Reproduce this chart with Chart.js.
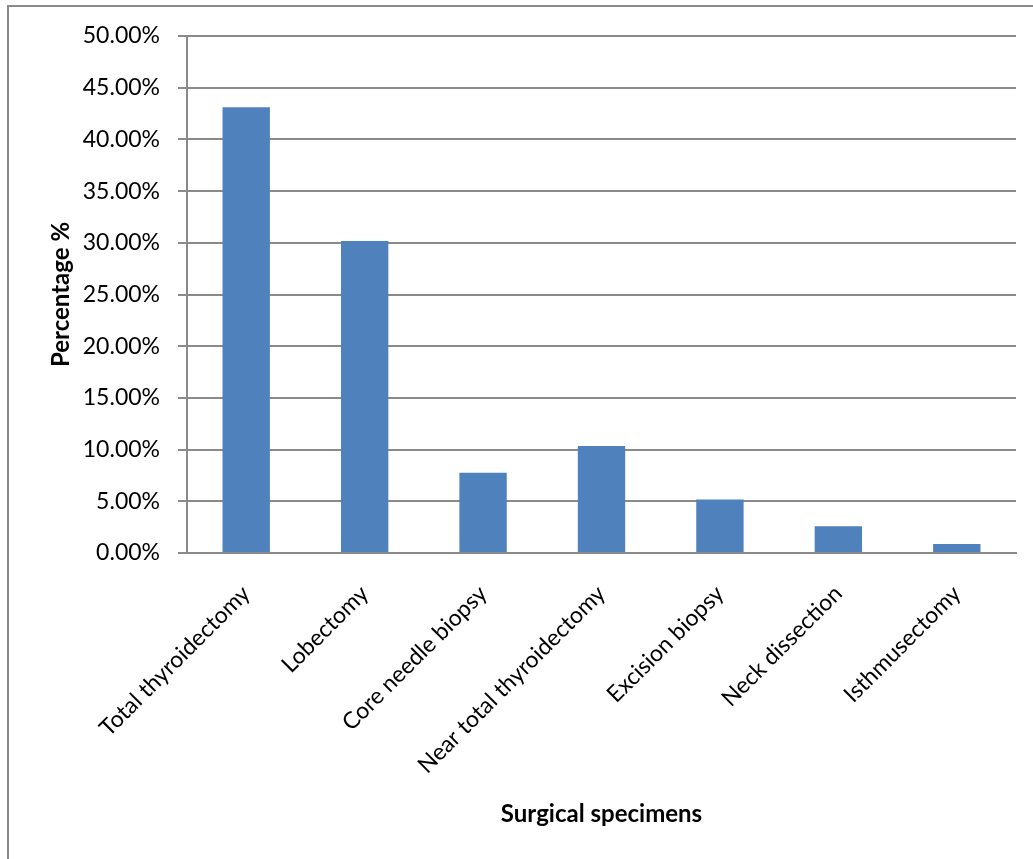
<!DOCTYPE html>
<html>
<head>
<meta charset="utf-8">
<script src="https://cdn.jsdelivr.net/npm/chart.js@4"></script>
<style>
  body { margin: 0; background: #fff; }
  canvas { display: block; }
</style>
</head>
<body>
<canvas id="specimens" width="1033" height="859"></canvas>
<script>
const categories = ['Total thyroidectomy', 'Lobectomy', 'Core needle biopsy', 'Near total thyroidectomy',
    'Excision biopsy', 'Neck dissection', 'Isthmusectomy'];
const percentages = [43.10, 30.17, 7.76, 10.34, 5.17, 2.59, 0.86];
const yTicks = [0, 5, 10, 15, 20, 25, 30, 35, 40, 45, 50];

const gridColor = '#8a8a8a';

// outer frame of the chart box (left and top edges only show)
const frame = {
    id: 'frame',
    beforeDraw(chart) {
        const c = chart.ctx;
        c.save();
        c.strokeStyle = '#8a8a8a';
        c.lineWidth = 2;
        c.beginPath();
        c.moveTo(8, chart.height);
        c.lineTo(8, 6);
        c.lineTo(chart.width, 6);
        c.stroke();
        c.restore();
    }
};

const ctx = document.getElementById('specimens');

const chart = new Chart(ctx, {
    type: 'bar',
    data: {
        labels: categories,
        datasets: [{
            label: 'Percentage',
            data: percentages,
            backgroundColor: '#4f81bd',
            barPercentage: 0.8,
            categoryPercentage: 0.5
        }]
    },
    options: {
        responsive: false,
        animation: false,
        layout: { padding: { left: 0, top: 36, right: 17, bottom: 0 } },
        plugins: {
            legend: { display: false },
            tooltip: { enabled: false }
        },
        scales: {
            x: {
                grid: { display: false, drawTicks: false },
                border: { display: true, color: gridColor, width: 2 },
                ticks: {
                    color: '#000',
                    font: { family: 'Lato', size: 23 },
                    minRotation: 45,
                    maxRotation: 45,
                    padding: 27
                },
                title: {
                    display: true,
                    text: 'Surgical specimens',
                    color: '#000',
                    font: { family: 'Lato', size: 24, weight: 'bold' },
                    padding: { top: 0, bottom: 30 }
                },
                afterFit(scale) { scale.height = 306; }
            },
            y: {
                min: 0,
                max: 50,
                afterBuildTicks(scale) {
                    scale.ticks = yTicks.map(v => ({ value: v }));
                },
                grid: { color: gridColor, lineWidth: 2, tickLength: 9 },
                border: { color: gridColor, width: 2 },
                ticks: {
                    color: '#000',
                    font: { family: 'Lato', size: 23 },
                    padding: 18,
                    callback: v => v.toFixed(2) + '%'
                },
                title: {
                    display: true,
                    text: 'Percentage %',
                    color: '#000',
                    font: { family: 'Lato', size: 24, weight: 'bold' },
                    padding: { top: 47, bottom: 0 }
                },
                afterFit(scale) { scale.width = 187; }
            }
        }
    },
    plugins: [frame]
});
</script>
</body>
</html>
